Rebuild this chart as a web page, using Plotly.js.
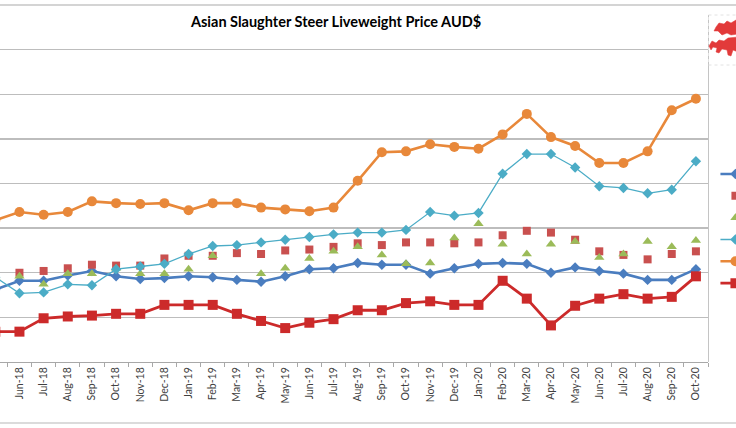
<!DOCTYPE html>
<html>
<head>
<meta charset="utf-8">
<script src="https://cdn.plot.ly/plotly-3.0.1.min.js"></script>
<style>
  html, body { margin: 0; padding: 0; background: #ffffff; overflow: hidden; }
  #chart { width: 736px; height: 428px; }
</style>
</head>
<body>
<div id="chart"></div>
<script>
// Monthly categories, May-18 .. Oct-20
const months = ["May-18","Jun-18","Jul-18","Aug-18","Sep-18","Oct-18","Nov-18","Dec-18",
  "Jan-19","Feb-19","Mar-19","Apr-19","May-19","Jun-19","Jul-19","Aug-19","Sep-19","Oct-19",
  "Nov-19","Dec-19","Jan-20","Feb-20","Mar-20","Apr-20","May-20","Jun-20","Jul-20","Aug-20",
  "Sep-20","Oct-20"];

// Liveweight prices, AUD$/kg
const vietnam = [2.81,2.91,2.91,2.97,3.02,2.96,2.93,2.94,2.96,2.95,2.92,2.90,2.96,3.04,3.05,
  3.11,3.09,3.09,2.99,3.05,3.10,3.11,3.10,3.00,3.06,3.02,2.99,2.92,2.92,3.04];
const malaysia = [2.98,3.00,3.02,3.05,3.09,3.08,3.08,3.16,3.19,3.19,3.22,3.21,3.25,3.26,3.29,
  3.33,3.31,3.34,3.34,3.33,3.34,3.42,3.47,3.45,3.37,3.24,3.20,3.15,3.21,3.24];
const philippines = [2.95,2.96,2.87,2.99,2.99,3.05,2.99,2.99,3.04,3.19,null,2.99,3.05,3.16,3.24,
  3.29,3.20,3.10,3.11,3.39,3.55,3.32,3.21,3.32,3.35,3.17,3.21,3.35,3.29,3.36];
const thailand = [2.95,2.77,2.78,2.87,2.86,3.04,3.07,3.10,3.21,3.30,3.31,3.34,3.37,3.40,3.43,
  3.45,3.45,3.48,3.68,3.64,3.67,4.11,4.33,4.33,4.18,3.97,3.95,3.89,3.93,4.25];
const china = [3.59,3.68,3.65,3.68,3.80,3.78,3.77,3.78,3.70,3.78,3.78,3.73,3.71,3.69,3.73,
  4.03,4.35,4.36,4.44,4.41,4.39,4.55,4.78,4.52,4.42,4.23,4.23,4.36,4.82,4.95];
const indonesia = [2.34,2.34,2.49,2.51,2.52,2.54,2.54,2.64,2.64,2.64,2.54,2.46,2.38,2.44,2.48,
  2.58,2.58,2.66,2.68,2.64,2.64,2.91,2.71,2.41,2.63,2.71,2.76,2.71,2.73,2.96];

// The key at the right edge shows symbols only; series labels run past the page edge
const traces = [
  { name: "", meta: "Vietnam", x: months, y: vietnam, type: "scatter", mode: "lines+markers",
    line: { color: "#4A7DBF", width: 2.6 },
    marker: { symbol: "diamond", size: 8, color: "#4A7DBF" } },
  { name: "", meta: "Malaysia", x: months, y: malaysia, type: "scatter", mode: "markers",
    marker: { symbol: "square", size: 8, color: "#C9504F" } },
  { name: "", meta: "Philippines", x: months, y: philippines, type: "scatter", mode: "markers",
    marker: { symbol: "triangle-up", size: 9, color: "#9BBB59" } },
  { name: "", meta: "Thailand", x: months, y: thailand, type: "scatter", mode: "lines+markers",
    line: { color: "#4BACC6", width: 1.3 },
    marker: { symbol: "diamond", size: 8, color: "#4BACC6" } },
  { name: "", meta: "China", x: months, y: china, type: "scatter", mode: "lines+markers",
    line: { color: "#E8883A", width: 2.6 },
    marker: { symbol: "circle", size: 10, color: "#E8883A" } },
  { name: "", meta: "Indonesia", x: months, y: indonesia, type: "scatter", mode: "lines+markers",
    line: { color: "#CC2A2A", width: 2.8 },
    marker: { symbol: "square", size: 10, color: "#CC2A2A" } }
];

// Plot area: 708 x 357 px, starting at the left edge of the page
const PW = 708, PT = 5, PB = 362;
const px = v => v / PW;
const py = v => (PB - v) / (PB - PT);

function path(points) {
  return "M " + points.map(p => px(p[0]) + "," + py(p[1])).join(" L ") + " Z";
}

const shapes = [
  // chart frame, top and bottom
  { type: "line", xref: "paper", yref: "paper", x0: px(-2), x1: px(740), y0: py(5), y1: py(5),
    line: { color: "#C6C6C6", width: 1.5 } },
  { type: "line", xref: "paper", yref: "paper", x0: px(-2), x1: px(740), y0: py(423), y1: py(423),
    line: { color: "#CFCFCF", width: 1.5 } },
  // right edge of the plot area
  { type: "line", xref: "paper", yref: "paper", x0: px(708.5), x1: px(708.5), y0: py(15), y1: py(362),
    line: { color: "#C4C4C4", width: 1 } },
  // logo frame
  { type: "rect", xref: "paper", yref: "paper", x0: px(708.5), x1: px(745), y0: py(15), y1: py(65),
    line: { color: "#E2E2E2", width: 1, dash: "dot" }, fillcolor: "rgba(0,0,0,0)" },
  // dragon emblem
  { type: "path", xref: "paper", yref: "paper", fillcolor: "#E23A3A", line: { color: "#E23A3A", width: 0.5 },
    path: path([[716,27],[719,23],[724,24],[727,21],[731,23],[736,20],[738,34],[731,35],[727,33],
      [722,35],[718,31],[714,31]]) },
  { type: "path", xref: "paper", yref: "paper", fillcolor: "#E23A3A", line: { color: "#E23A3A", width: 0.5 },
    path: path([[709,46],[712,41],[716,43],[719,40],[724,41],[728,38],[738,37],[738,52],[733,50],
      [731,56],[728,55],[727,50],[722,49],[719,53],[716,52],[717,48],[713,47],[711,50]]) }
];

const layout = {
  width: 736, height: 428,
  margin: { l: 0, r: 28, t: PT, b: 428 - PB, autoexpand: false },
  paper_bgcolor: "#ffffff", plot_bgcolor: "#ffffff",
  font: { family: "Lato, 'Open Sans', sans-serif", color: "#404040" },
  title: {
    text: "Asian Slaughter Steer Liveweight Price AUD$",
    font: { family: "Lato, 'Open Sans', sans-serif", size: 14.5, color: "#000000", weight: "bold" },
    xref: "container", yref: "container", x: 336 / 736, xanchor: "center", y: 1 - 22 / 428, yanchor: "middle"
  },
  showlegend: true,
  legend: {
    x: 1.0105, xanchor: "left", y: py(158), yanchor: "top",
    bgcolor: "rgba(0,0,0,0)", borderwidth: 0,
    font: { size: 14.5, color: "#404040" }, tracegroupgap: 0
  },
  xaxis: {
    type: "category", range: [0.195, 29.5], tickson: "boundaries",
    showgrid: false, zeroline: false,
    showline: true, linecolor: "#A8A8A8", linewidth: 1,
    ticks: "outside", ticklen: 4, tickcolor: "#A8A8A8",
    tickangle: -90, tickfont: { size: 10.5, color: "#404040" }
  },
  yaxis: {
    range: [2, 6], dtick: 0.5, tick0: 2,
    showgrid: true, gridcolor: "#BDBDBD", gridwidth: 1.3,
    zeroline: false, showline: false, showticklabels: false, ticks: ""
  },
  shapes: shapes
};

Plotly.newPlot("chart", traces, layout, { displayModeBar: false, staticPlot: true });
</script>
</body>
</html>
